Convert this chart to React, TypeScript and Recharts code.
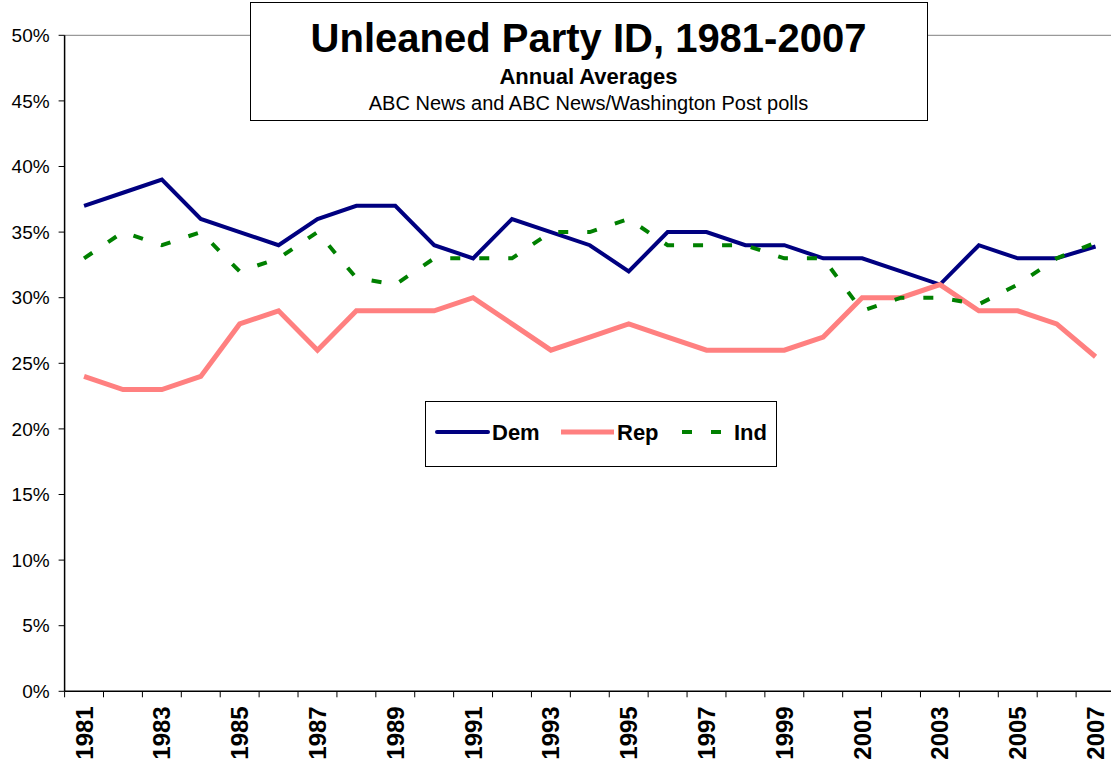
import React from 'react';
import { LineChart, Line, XAxis, YAxis, Legend, ReferenceLine } from 'recharts';

const years = ['1981','1982','1983','1984','1985','1986','1987','1988','1989','1990','1991','1992','1993','1994','1995','1996','1997','1998','1999','2000','2001','2002','2003','2004','2005','2006','2007'];
const demValues = [37,38,39,36,35,34,36,37,37,34,33,36,35,34,32,35,35,34,34,33,33,32,31,34,33,33,33.9];
const repValues = [24,23,23,24,28,29,26,29,29,29,30,28,26,27,28,27,26,26,26,27,30,30,31,29,29,28,25.5];
const indValues = [33,35,34,35,32,33,35,31.5,31,33,33,33,35,35,36,34,34,34,33,33,29,30,30,29.5,31,33,34.2];
const yTicks = [0,5,10,15,20,25,30,35,40,45,50];
const seriesOrder = ['Dem', 'Rep', 'Ind'];

const titleText = 'Unleaned Party ID, 1981-2007';
const subtitleText = 'Annual Averages';
const sourceText = 'ABC News and ABC News/Washington Post polls';

const data = years.map((y, i) => ({ year: y, Dem: demValues[i], Rep: repValues[i], Ind: indValues[i] }));

const FONT = '"Liberation Sans", Arial, Helvetica, sans-serif';
const CHART_W = 1130;
const CHART_H = 763;
const LEFT = 64.6;
const RIGHT_M = 15;
const TOP = 35.3;
const XAXIS_H = 71.7;
const AXIS_Y = CHART_H - XAXIS_H;
const BAND = (CHART_W - RIGHT_M - LEFT) / years.length;

const XTick = (props: any) => {
  const { x, payload } = props;
  const idx = payload.index;
  const showLabel = idx % 2 === 0;
  return (
    <g>
      <line x1={x - BAND / 2} y1={AXIS_Y} x2={x - BAND / 2} y2={AXIS_Y + 6} stroke="#000" strokeWidth={1} />
      {idx === years.length - 1 && (
        <line x1={x + BAND / 2} y1={AXIS_Y} x2={x + BAND / 2} y2={AXIS_Y + 6} stroke="#000" strokeWidth={1} />
      )}
      {showLabel && (
        <text
          transform={`translate(${x + 8.5},${AXIS_Y + 15}) rotate(-90)`}
          textAnchor="end"
          fontFamily={FONT}
          fontWeight="bold"
          fontSize={24}
          fill="#000"
        >
          {payload.value}
        </text>
      )}
    </g>
  );
};

const legendOffsets = [
  { lineX1: 11, lineX2: 62, textX: 66 },
  { lineX1: 135, lineX2: 188, textX: 191 },
  { lineX1: 256, lineX2: 295, textX: 308 },
];

const LegendBox = (props: any) => {
  const payload = [...(props.payload || [])].sort(
    (a: any, b: any) => seriesOrder.indexOf(a.value) - seriesOrder.indexOf(b.value)
  );
  return (
    <div style={{ width: 352, height: 66, border: '1px solid #000', background: '#fff', boxSizing: 'border-box' }}>
      <svg width={350} height={64} style={{ display: 'block' }}>
        {payload.map((entry: any, i: number) => {
          const o = legendOffsets[i] || legendOffsets[0];
          const isDash = entry.value === 'Ind';
          const sw = entry.value === 'Rep' ? 5 : 4;
          return (
            <g key={entry.value}>
              <line
                x1={o.lineX1}
                y1={30}
                x2={o.lineX2}
                y2={30}
                stroke={entry.color}
                strokeWidth={sw}
                strokeDasharray={isDash ? '10 19' : undefined}
                strokeLinecap={entry.value === 'Dem' ? 'round' : 'butt'}
              />
              <text x={o.textX} y={38} fontFamily={FONT} fontWeight="bold" fontSize={22} fill="#000">
                {entry.value}
              </text>
            </g>
          );
        })}
      </svg>
    </div>
  );
};

export default function App() {
  return (
    <div style={{ position: 'absolute', left: 0, top: 0, width: 1111, height: 763, overflow: 'hidden', background: '#fff', fontFamily: FONT }}>
      <LineChart
        width={CHART_W}
        height={CHART_H}
        data={data}
        margin={{ top: TOP, right: RIGHT_M, bottom: 0, left: 0 }}
      >
        <ReferenceLine y={50} stroke="#808080" strokeWidth={1} ifOverflow="visible" />
        <XAxis
          dataKey="year"
          interval={0}
          height={XAXIS_H}
          padding={{ left: BAND / 2, right: BAND / 2 }}
          tickLine={false}
          axisLine={{ stroke: '#000', strokeWidth: 1.5 }}
          tick={<XTick />}
        />
        <YAxis
          type="number"
          domain={[0, 50]}
          ticks={yTicks}
          width={LEFT}
          tickFormatter={(v: number) => `${v}%`}
          tickSize={6}
          tickMargin={9}
          axisLine={{ stroke: '#000', strokeWidth: 1.5 }}
          tickLine={{ stroke: '#000', strokeWidth: 1 }}
          tick={{ fill: '#000', fontSize: 19, fontFamily: FONT }}
        />
        <Legend
          layout="horizontal"
          verticalAlign="middle"
          align="center"
          content={<LegendBox />}
          wrapperStyle={{ position: 'absolute', left: 425, top: 401, width: 352, height: 66, bottom: 'auto', right: 'auto' }}
        />
        <Line type="linear" dataKey="Dem" stroke="#000080" strokeWidth={4} dot={false} isAnimationActive={false} />
        <Line type="linear" dataKey="Rep" stroke="#FF8080" strokeWidth={5} dot={false} isAnimationActive={false} />
        <Line type="linear" dataKey="Ind" stroke="#008000" strokeWidth={4} strokeDasharray="10 19" dot={false} isAnimationActive={false} />
      </LineChart>
      <svg width={1111} height={130} style={{ position: 'absolute', left: 0, top: 0, pointerEvents: 'none' }}>
        <rect x={250.5} y={2.5} width={677} height={118} fill="#fff" stroke="#000" strokeWidth={1} />
        <text x={588.5} y={52} textAnchor="middle" fontFamily={FONT} fontWeight="bold" fontSize={40} fill="#000">
          {titleText}
        </text>
        <text x={588.5} y={84} textAnchor="middle" fontFamily={FONT} fontWeight="bold" fontSize={22} fill="#000">
          {subtitleText}
        </text>
        <text x={588.5} y={110} textAnchor="middle" fontFamily={FONT} fontSize={20} fill="#000">
          {sourceText}
        </text>
      </svg>
    </div>
  );
}
